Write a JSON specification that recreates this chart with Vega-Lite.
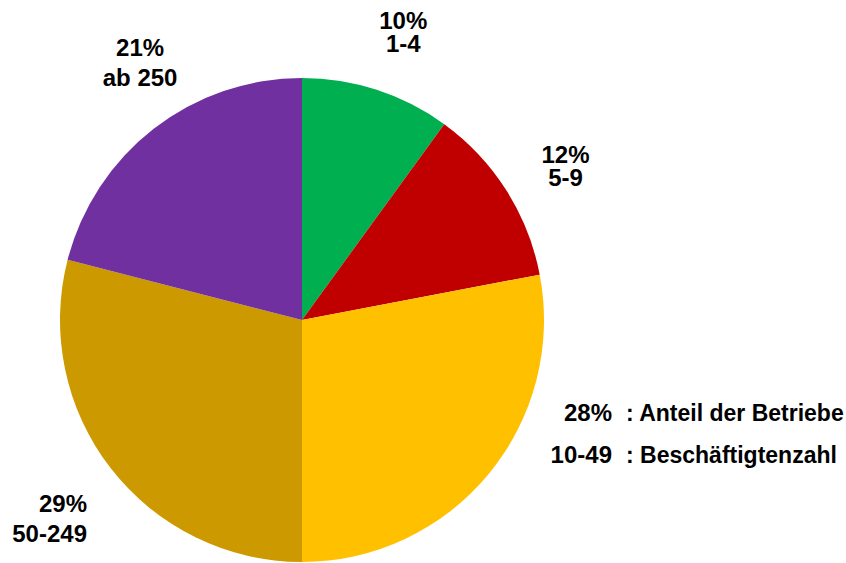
{
  "$schema": "https://vega.github.io/schema/vega-lite/v6.json",
  "width": 484,
  "height": 484,
  "autosize": {"type": "none"},
  "padding": {"left": 60, "top": 78, "right": 302, "bottom": 1},
  "background": "white",
  "config": {"view": {"stroke": null}},
  "data": {
    "values": [
      {"idx": 1, "group": "1-4", "share": 10, "pct": "10%"},
      {"idx": 2, "group": "5-9", "share": 12, "pct": "12%"},
      {"idx": 3, "group": "10-49", "share": 28, "pct": "28%"},
      {"idx": 4, "group": "50-249", "share": 29, "pct": "29%"},
      {"idx": 5, "group": "ab 250", "share": 21, "pct": "21%"}
    ]
  },
  "transform": [
    {"stack": "share", "groupby": [], "sort": [{"field": "idx", "order": "ascending"}], "as": ["t0", "t1"]},
    {"calculate": "(datum.t0 + datum.t1) / 2", "as": "mid"},
    {"calculate": "[datum.pct, datum.group]", "as": "label"}
  ],
  "layer": [
    {
      "mark": {"type": "arc", "stroke": null},
      "encoding": {
        "theta": {"field": "t0", "type": "quantitative", "scale": {"domain": [0, 100]}},
        "theta2": {"field": "t1"},
        "color": {
          "field": "group",
          "type": "nominal",
          "scale": {
            "domain": ["1-4", "5-9", "10-49", "50-249", "ab 250"],
            "range": ["#00B050", "#C00000", "#FFC000", "#CC9900", "#7030A0"]
          },
          "legend": null
        }
      }
    },
    {
      "transform": [{"filter": "datum.idx == 1"}],
      "mark": {"type": "text", "radius": 305, "font": "Liberation Sans", "fontWeight": "bold", "fontSize": 24, "lineHeight": 23, "color": "black", "align": "center", "baseline": "middle", "dx": 7, "dy": -8},
      "encoding": {"theta": {"field": "mid", "type": "quantitative", "stack": null}, "text": {"field": "label"}}
    },
    {
      "transform": [{"filter": "datum.idx == 2"}],
      "mark": {"type": "text", "radius": 305, "font": "Liberation Sans", "fontWeight": "bold", "fontSize": 24, "lineHeight": 23, "color": "black", "align": "center", "baseline": "middle", "dx": 6, "dy": -1},
      "encoding": {"theta": {"field": "mid", "type": "quantitative", "stack": null}, "text": {"field": "label"}}
    },
    {
      "transform": [{"filter": "datum.idx == 3"}],
      "mark": {"type": "text", "radius": 305, "font": "Liberation Sans", "fontWeight": "bold", "fontSize": 24, "lineHeight": 42, "color": "black", "align": "right", "baseline": "middle", "dx": 75, "dy": -100},
      "encoding": {"theta": {"field": "mid", "type": "quantitative", "stack": null}, "text": {"field": "label"}}
    },
    {
      "transform": [{"filter": "datum.idx == 3"}],
      "mark": {"type": "text", "radius": 305, "font": "Liberation Sans", "fontWeight": "bold", "fontSize": 23, "lineHeight": 42, "color": "black", "align": "left", "baseline": "middle", "dx": 89, "dy": -100, "text": [": Anteil der Betriebe", ": Beschäftigtenzahl"]},
      "encoding": {"theta": {"field": "mid", "type": "quantitative", "stack": null}}
    },
    {
      "transform": [{"filter": "datum.idx == 4"}],
      "mark": {"type": "text", "radius": 305, "font": "Liberation Sans", "fontWeight": "bold", "fontSize": 24, "lineHeight": 30, "color": "black", "align": "right", "baseline": "middle", "dx": 26, "dy": -2},
      "encoding": {"theta": {"field": "mid", "type": "quantitative", "stack": null}, "text": {"field": "label"}}
    },
    {
      "transform": [{"filter": "datum.idx == 5"}],
      "mark": {"type": "text", "radius": 305, "font": "Liberation Sans", "fontWeight": "bold", "fontSize": 24, "lineHeight": 30, "color": "black", "align": "center", "baseline": "middle", "dx": 25, "dy": -30},
      "encoding": {"theta": {"field": "mid", "type": "quantitative", "stack": null}, "text": {"field": "label"}}
    }
  ]
}
